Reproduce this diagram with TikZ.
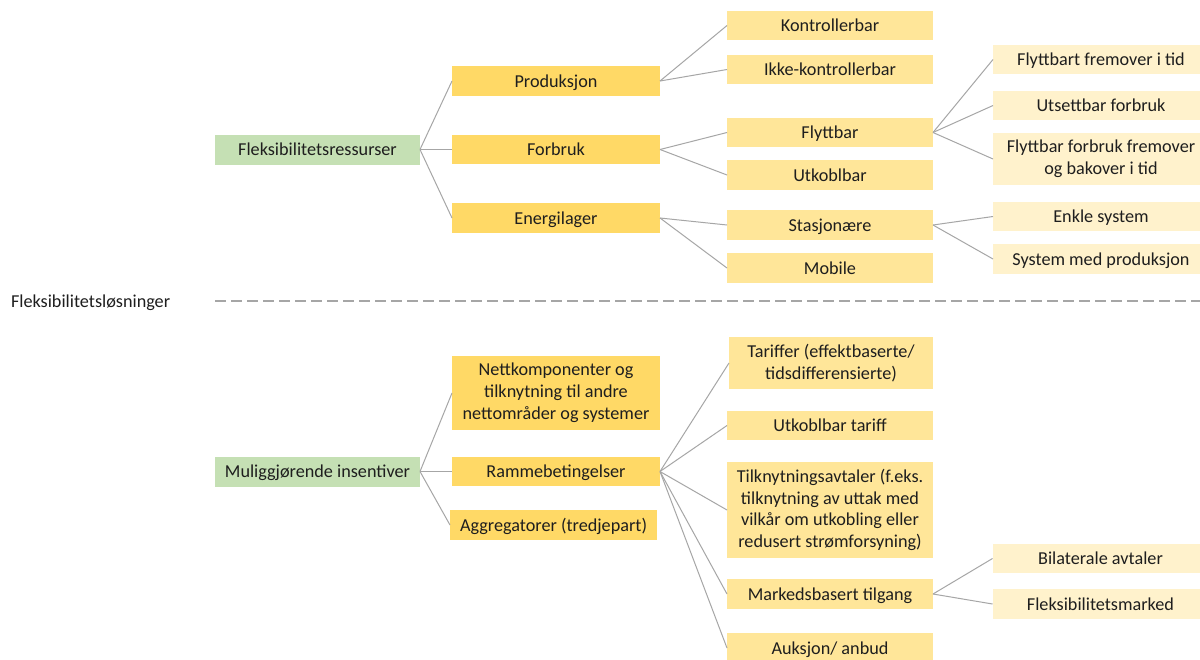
\documentclass[tikz,border=0pt]{standalone}
\usepackage{fontspec}
\setmainfont{Carlito}
\definecolor{cgreen}{HTML}{C5E0B4}
\definecolor{cyA}{HTML}{FFD966}
\definecolor{cyB}{HTML}{FFE699}
\definecolor{cyC}{HTML}{FFF2CC}
\definecolor{txt}{HTML}{1E1E1E}
\definecolor{lgray}{HTML}{A6A6A6}
\begin{document}
\begin{tikzpicture}[x=1pt,y=-1pt,
  box/.style={rectangle, inner sep=0pt, outer sep=0pt, align=center, text=txt,
    font=\fontsize{18.2}{21.8}\selectfont},
  one/.style={text height=15pt, text depth=3pt},
  hA/.style={minimum height=29pt},
  hB/.style={minimum height=30pt},
  gbox/.style={box, one, hB, fill=cgreen, minimum width=205pt},
  ybA/.style={box, fill=cyA, minimum width=208pt},
  ybB/.style={box, fill=cyB, minimum width=206pt},
  ybC/.style={box, fill=cyC, minimum width=216pt},
  con/.style={draw=lgray, line width=1pt},
  sep/.style={draw=lgray, line width=1.5pt, dash pattern=on 11pt off 5pt}
]
\useasboundingbox (0,0) rectangle (1200,659);
\clip (0,0) rectangle (1200,659);
\fill[white] (0,0) rectangle (1200,659);

% ---------- upper tree ----------
\node[gbox] (fr) at (317.5,149.5) {Fleksibilitetsressurser};
\node[ybA, one, hB] (prod) at (556,81) {Produksjon};
\node[ybA, one, hA] (forb) at (556,149.5) {Forbruk};
\node[ybA, one, hB] (ener) at (556,218) {Energilager};

\node[ybB, one, hA] (kon) at (830,25.5) {Kontrollerbar};
\node[ybB, one, hA] (ikke) at (830,69.5) {Ikke-kontrollerbar};
\node[ybB, one, hA] (flytt) at (830,132.5) {Flyttbar};
\node[ybB, one, hB] (utk) at (830,175) {Utkoblbar};
\node[ybB, one, hB] (stas) at (830,225) {Stasjonære};
\node[ybB, one, hB] (mob) at (830,268) {Mobile};

\node[ybC, one, hA] (fft) at (1101,59.5) {Flyttbart fremover i tid};
\node[ybC, one, hA] (uts) at (1101,105.5) {Utsettbar forbruk};
\node[ybC, minimum height=52pt] (ffb) at (1101,159) {Flyttbar forbruk fremover\\og bakover i tid};
\node[ybC, one, hA] (enk) at (1101,216.5) {Enkle system};
\node[ybC, one, hB] (smp) at (1101,259) {System med produksjon};

\foreach \c in {prod,forb,ener} \draw[con] (fr.east) -- (\c.west);
\foreach \c in {kon,ikke} \draw[con] (prod.east) -- (\c.west);
\foreach \c in {flytt,utk} \draw[con] (forb.east) -- (\c.west);
\foreach \c in {stas,mob} \draw[con] (ener.east) -- (\c.west);
\foreach \c in {fft,uts,ffb} \draw[con] (flytt.east) -- (\c.west);
\foreach \c in {enk,smp} \draw[con] (stas.east) -- (\c.west);

% ---------- separator ----------
\node[box, one, anchor=west] (fl) at (11,301) {Fleksibilitetsløsninger};
\coordinate (d1) at (215,301);
\coordinate (d2) at (1200,301);
\draw[sep] (d1) -- (d2);

% ---------- lower tree ----------
\node[gbox] (mi) at (317.5,471.5) {Muliggjørende insentiver};
\node[ybA, minimum height=74pt] (nett) at (556,393) {Nettkomponenter og\\tilknytning til andre\\nettområder og systemer};
\node[ybA, one, hA] (ramm) at (556,471.5) {Rammebetingelser};
\node[ybA, one, hB, minimum width=207pt] (aggr) at (553.5,525) {Aggregatorer (tredjepart)};

\node[ybB, minimum height=52pt, minimum width=204pt] (tar) at (831,363) {Tariffer (effektbaserte/\\tidsdifferensierte)};
\node[ybB, one, hA] (utkt) at (830,425.5) {Utkoblbar tariff};
\node[ybB, minimum height=96pt] (tilk) at (830,510) {Tilknytningsavtaler (f.eks.\\tilknytning av uttak med\\vilkår om utkobling eller\\redusert strømforsyning)};
\node[ybB, one, hB] (mark) at (830,594) {Markedsbasert tilgang};
\node[ybB, one, hB] (auk) at (830,648) {Auksjon/ anbud};

\node[ybC, one, hA] (bil) at (1100.5,558.5) {Bilaterale avtaler};
\node[ybC, one, hB] (fle) at (1100.5,604) {Fleksibilitetsmarked};

\foreach \c in {nett,ramm,aggr} \draw[con] (mi.east) -- (\c.west);
\foreach \c in {tar,utkt,tilk,mark,auk} \draw[con] (ramm.east) -- (\c.west);
\foreach \c in {bil,fle} \draw[con] (mark.east) -- (\c.west);
\end{tikzpicture}
\end{document}
